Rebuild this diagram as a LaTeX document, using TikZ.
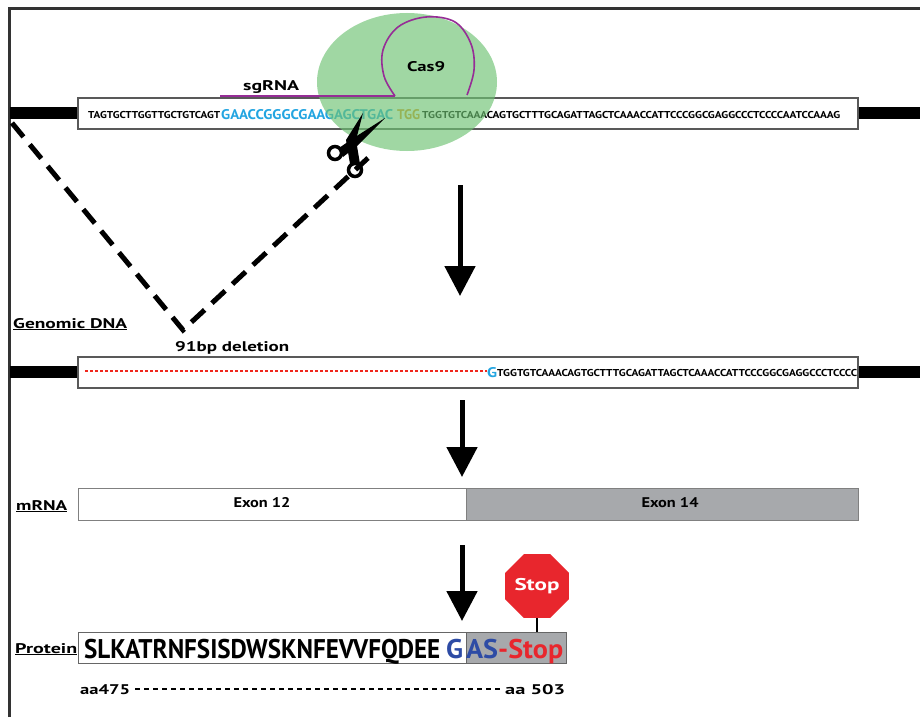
\documentclass[tikz,border=0pt]{standalone}
\usepackage{fontspec}
\setmainfont{PT Sans}
\usepackage{graphicx}
\usetikzlibrary{positioning,arrows.meta,shapes.geometric}
\definecolor{sgcyan}{RGB}{35,165,225}
\definecolor{pamgold}{RGB}{225,150,30}
\definecolor{casgreen}{RGB}{110,195,115}
\definecolor{sgpurple}{RGB}{150,45,150}
\definecolor{exongray}{RGB}{167,169,172}
\definecolor{aablue}{RGB}{45,75,165}
\definecolor{stopred}{RGB}{232,38,45}
\definecolor{delred}{RGB}{240,40,30}
% squeeze a text to a given width, keep its height
\newcommand{\fitw}[2]{\resizebox{#1}{\height}{#2}}
% black strand ends and the white sequence box around centre line #1
\newcommand{\dnastrand}[1]{
  \draw[line width=12pt] (10,#1) -- (80,#1) (856,#1) -- (920,#1);
  \draw[seqbox] (78,#1-15) rectangle (858,#1+16);
}
\tikzset{
  lbl/.style={font=\fontsize{14}{14}\selectfont\bfseries, inner sep=0pt, anchor=base west},
  seq/.style={font=\fontsize{10}{10}\selectfont\bfseries, inner sep=0pt, anchor=base west},
  seqbig/.style={font=\fontsize{14}{14}\selectfont\bfseries, inner sep=0pt, anchor=base west},
  seqbox/.style={draw=black!65, line width=1.2pt, fill=white},
  bigarrow/.style={line width=5pt, -{Triangle[length=30pt, width=30pt]}},
  delline/.style={line width=5pt, dash pattern=on 18pt off 10pt},
  aa/.style={font=\fontsize{27}{27}\selectfont\bfseries, inner sep=0pt, anchor=base west},
  stopsign/.style={regular polygon, regular polygon sides=8, minimum size=64pt,
    fill=stopred, text=white, inner sep=0pt, font=\fontsize{17}{17}\selectfont\bfseries}
}
\begin{document}
\begin{tikzpicture}[x=1pt, y=-1pt]
\useasboundingbox (0,0) rectangle (920,717);
\fill[white] (0,0) rectangle (920,717);
\draw[black!80, line width=3pt] (9,717) -- (9,9) -- (920,9);

% target locus with guide and PAM
\dnastrand{113}
\node[seq] (seqL) at (88,118) {\fitw{132pt}{TAGTGCTTGGTTGCTGTCAGT}};
\node[seqbig, text=sgcyan] (guide) at (221,119) {\fitw{172pt}{GAACCGGGCGAAGAGCTGAC}};
\node[seqbig, text=pamgold] (pam) at (397,119) {\fitw{23pt}{TGG}};
\node[seq] (seqR) at (422,118) {\fitw{418pt}{TGGTGTCAAACAGTGCTTTGCAGATTAGCTCAAACCATTCCCGGCGAGGCCCTCCCCAATCCAAAG}};
\fill[casgreen, opacity=0.65] (407,82) ellipse [x radius=90, y radius=69];
\draw[sgpurple, line width=1.6pt] (220,96) -- (395,96);
\draw[sgpurple, line width=1.6pt] plot[smooth, tension=0.6] coordinates
  {(395,96) (384,76) (383,50) (398,27) (426,17) (455,22) (471,44) (474,70) (467,95)};
\node[lbl] (sgrna) at (243,90) {\fitw{56pt}{sgRNA}};
\node[lbl] (cas) at (407,71) {\fitw{38pt}{Cas9}};

% scissors at the cut site
\fill (339,148) -- (352,139) -- (385,118) -- (357,146) -- (343,157) -- cycle;
\fill (350,164) -- (346,140) -- (363,113) -- (356,140) -- (360,164) -- cycle;
\draw[line width=3.5pt, fill=white] (335,153) circle (6.5) (355,170) circle (6.5);

% deleted stretch
\coordinate (cutL) at (12,123);
\coordinate (delV) at (183,330);
\coordinate (cutR) at (368,158);
\draw[delline] (cutL) -- (delV) -- (cutR);
\node[lbl] (gdna) at (13,328) {\fitw{114pt}{\underline{Genomic DNA}}};
\node[lbl] (del) at (175,351) {\fitw{114pt}{91bp deletion}};

\coordinate (a1) at (460,185);
\coordinate (b1) at (460,296);
\draw[bigarrow] (a1) -- (b1);

% edited locus
\dnastrand{372}
\coordinate (gapL) at (85,371);
\node[seqbig, text=sgcyan] (gfix) at (487,377) {\fitw{10pt}{G}};
\draw[draw=delred, line width=1.1pt, dash pattern=on 3pt off 2pt] (gapL) -- (gfix.west |- gapL);
\node[seq] (seqE) at (497,376) {\fitw{360pt}{TGGTGTCAAACAGTGCTTTGCAGATTAGCTCAAACCATTCCCGGCGAGGCCCTCCCC}};

\coordinate (a2) at (462,400);
\coordinate (b2) at (462,477);
\draw[bigarrow] (a2) -- (b2);

% transcript
\draw[seqbox, draw=black!50, line width=1pt] (78,488) rectangle (466,520);
\draw[seqbox, draw=black!50, line width=1pt, fill=exongray] (466,488) rectangle (858,520);
\node[lbl] (mrna) at (16,510) {\fitw{51pt}{\underline{mRNA}}};
\node[lbl, anchor=center] (ex12) at (262,503) {\fitw{57pt}{Exon 12}};
\node[lbl, anchor=center] (ex14) at (670,503) {\fitw{57pt}{Exon 14}};

\coordinate (a3) at (462,545);
\coordinate (b3) at (462,621);
\draw[bigarrow] (a3) -- (b3);

% truncated protein
\draw[seqbox, draw=black!60, line width=1pt] (78,632) rectangle (466,663);
\draw[seqbox, draw=black!60, line width=1pt, fill=exongray] (466,632) rectangle (566,663);
\node[lbl] (prot) at (15,653) {\fitw{62pt}{\underline{Protein}}};
\node[aa] (aaseq) at (84,658) {\fitw{356pt}{SLKATRNFSISDWSKNFEVVFQDEE}};
\node[aa, text=aablue] (aaG) at (446,658) {\fitw{17pt}{G}};
\node[aa] (aaend) at (466,658) {\fitw{97pt}{\textcolor{aablue}{AS}\textcolor{stopred}{-Stop}}};
\node[stopsign] (stop) at (537,586) {\fitw{45pt}{Stop}};
\coordinate (stem) at (537,632);
\draw[line width=2pt] (stop) -- (stem);

\node[lbl] (aa1) at (80,694) {\fitw{50pt}{aa475}};
\node[lbl] (aa2) at (505,694) {\fitw{60pt}{aa 503}};
\draw[line width=1.5pt, dash pattern=on 5pt off 4pt] ([xshift=5pt,yshift=5pt]aa1.base east) -- ([xshift=-5pt,yshift=5pt]aa2.base west);
\end{tikzpicture}
\end{document}
